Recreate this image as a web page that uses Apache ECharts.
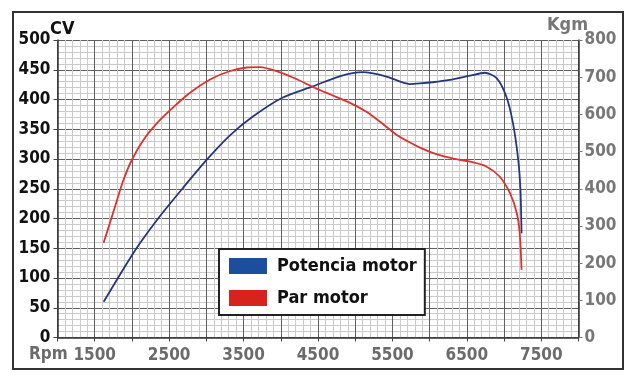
<!DOCTYPE html>
<html>
<head>
<meta charset="utf-8">
<script src="https://cdn.jsdelivr.net/npm/echarts@6/dist/echarts.min.js"></script>
<style>
html,body{margin:0;padding:0;background:#fff;}
#c{width:640px;height:384px;}
</style>
</head>
<body>
<div id="c"></div>
<script>
// Data
const rpmPotencia = [1620, 1880, 2100, 2370, 2690, 3000, 3310, 3620, 4020, 4430, 4790, 5100, 5410, 5730, 5870, 6040, 6270, 6540, 6740, 6900, 7030, 7120, 7190, 7220, 7235];
const potenciaCV  = [60, 114, 157, 203, 252, 298, 339, 371, 403, 422, 439, 446, 439, 426, 427, 429, 433, 440, 445, 436, 405, 360, 299, 248, 175];

const rpmPar = [1620, 1700, 1790, 1880, 1990, 2150, 2330, 2550, 2780, 3050, 3310, 3540, 3720, 3990, 4210, 4440, 4660, 4930, 5150, 5380, 5550, 5730, 5900, 6090, 6320, 6540, 6760, 6940, 7080, 7170, 7210, 7235];
const parKgm = [255, 305, 363, 420, 474, 530, 575, 618, 658, 694, 716, 726, 727, 713, 695, 673, 654, 631, 607, 573, 546, 525, 508, 493, 481, 473, 460, 433, 388, 335, 281, 182];

const seriesNames = ['Potencia motor', 'Par motor'];
const xTickLabels = [1500, 2500, 3500, 4500, 5500, 6500, 7500];

const FONT = "'Liberation Sans Narrow', 'DejaVu Sans Condensed', 'Noto Sans', sans-serif";

const chart = echarts.init(document.getElementById('c'), null, {renderer: 'canvas'});

const zip = (xs, ys) => xs.map((x, i) => [x, ys[i]]);

chart.setOption({
  animation: false,
  backgroundColor: '#fff',
  grid: {left: 57.5, right: 61.5, top: 40, bottom: 46.5, containLabel: false},
  xAxis: {
    type: 'value', min: 1000, max: 8000, interval: 500,
    axisLine: {show: true, lineStyle: {color: '#333', width: 1.5}},
    axisTick: {show: true, length: 4, lineStyle: {color: '#444'}},
    axisLabel: {
      margin: 10, color: '#6b6b6b', fontFamily: FONT, fontWeight: 'bold', fontSize: 17,
      formatter: v => xTickLabels.includes(v) ? String(v) : ''
    },
    splitLine: {show: true, lineStyle: {color: '#606060', width: 1}},
    minorTick: {show: false, splitNumber: 5},
    minorSplitLine: {show: true, lineStyle: {color: '#cacaca', width: 1}}
  },
  yAxis: [
    {
      type: 'value', min: 0, max: 500, interval: 50, position: 'left',
      axisLine: {show: true, lineStyle: {color: '#333', width: 1.5}},
      axisTick: {show: true, length: 4, lineStyle: {color: '#444'}},
      axisLabel: {margin: 7, color: '#111', fontFamily: FONT, fontWeight: 'bold', fontSize: 17},
      splitLine: {show: true, lineStyle: {color: '#606060', width: 1}},
      minorTick: {show: false, splitNumber: 5},
      minorSplitLine: {show: true, lineStyle: {color: '#cacaca', width: 1}}
    },
    {
      type: 'value', min: 0, max: 800, interval: 100, position: 'right',
      axisLine: {show: true, lineStyle: {color: '#333', width: 1.5}},
      axisTick: {show: true, length: 4, lineStyle: {color: '#777'}},
      axisLabel: {margin: 6, color: '#777', fontFamily: FONT, fontWeight: 'bold', fontSize: 17},
      splitLine: {show: false}
    }
  ],
  legend: {
    orient: 'vertical', left: 219, top: 249,
    backgroundColor: '#fff', borderColor: '#222', borderWidth: 2,
    padding: [8, 8, 8, 10], itemGap: 14, itemWidth: 38, itemHeight: 16,
    icon: 'rect',
    textStyle: {fontFamily: FONT, fontWeight: 'bold', fontSize: 18, color: '#111', padding: [0, 0, 0, 5]},
    data: [
      {name: seriesNames[0], itemStyle: {color: '#1b4f9b'}},
      {name: seriesNames[1], itemStyle: {color: '#d8221c'}}
    ]
  },
  series: [
    {
      name: seriesNames[0], type: 'line', yAxisIndex: 0, data: zip(rpmPotencia, potenciaCV),
      showSymbol: false, smooth: 0.25, z: 5,
      lineStyle: {color: '#24367f', width: 1.8}, itemStyle: {color: '#24367f'}
    },
    {
      name: seriesNames[1], type: 'line', yAxisIndex: 1, data: zip(rpmPar, parKgm),
      showSymbol: false, smooth: 0.25, z: 5,
      lineStyle: {color: '#e1302a', width: 1.8}, itemStyle: {color: '#e1302a'}
    }
  ],
  graphic: [
    {type: 'rect', shape: {x: 13, y: 12, width: 610, height: 357}, style: {fill: 'none', stroke: '#333', lineWidth: 2}, z: 100},
    {type: 'text', style: {text: 'CV', x: 50, y: 29, fill: '#111', font: "bold 18px " + FONT, verticalAlign: 'middle'}},
    {type: 'text', style: {text: 'Kgm', x: 547, y: 25, fill: '#777', font: "bold 18px " + FONT, verticalAlign: 'middle'}},
    {type: 'text', style: {text: 'Rpm', x: 29, y: 355, fill: '#6b6b6b', font: "bold 17px " + FONT, verticalAlign: 'middle'}}
  ]
});
</script>
</body>
</html>
